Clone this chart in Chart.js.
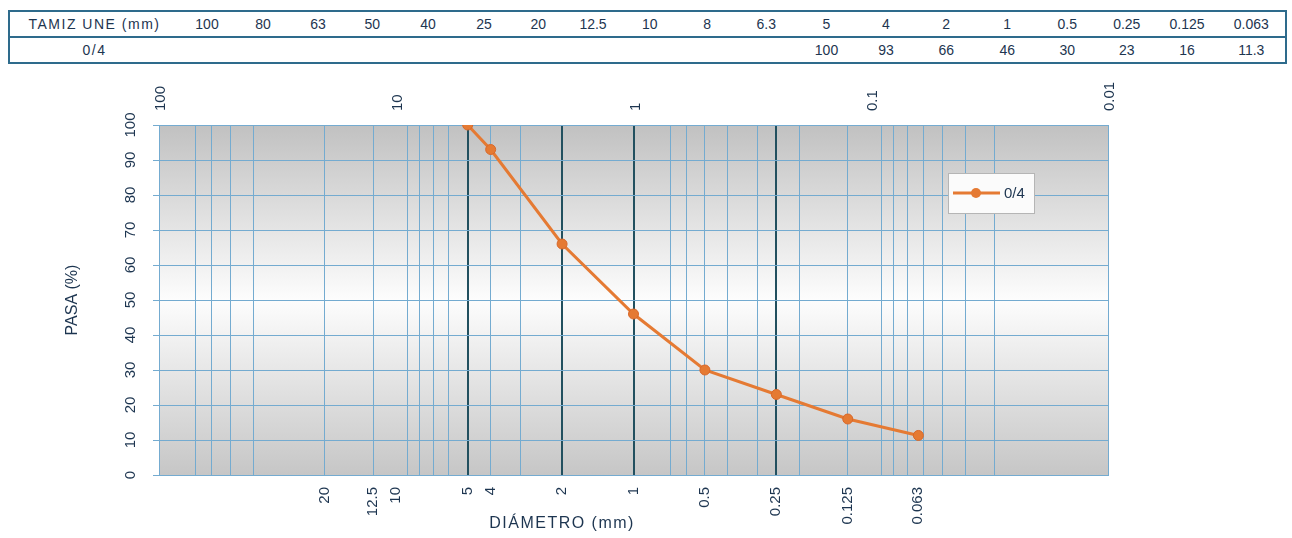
<!DOCTYPE html>
<html>
<head>
<meta charset="utf-8">
<script src="https://cdn.jsdelivr.net/npm/chart.js@4.4.1/dist/chart.umd.min.js"></script>
<style>
  body { margin: 0; background: #fff; font-family: "Liberation Sans", Arial, sans-serif; }
  #wrap { position: relative; width: 1292px; height: 538px; }
  #chart { position: absolute; left: 0; top: 0; }
  #sieve-table { position: absolute; left: 8px; top: 10px; width: 1277px; border-collapse: collapse;
    table-layout: fixed; border: 2px solid #2e6b8c; color: #1d3550; font-size: 14px; background: #fff; }
  #sieve-table td { height: 24px; padding: 0; text-align: center; white-space: nowrap; }
  #sieve-table td:first-child { letter-spacing: 1.5px; }
  #sieve-table tr:first-child td { border-bottom: 2px solid #2e6b8c; }
</style>
</head>
<body>
<div id="wrap">
  <canvas id="chart" width="1292" height="538"></canvas>
  <table id="sieve-table"></table>
</div>
<script>
// sieve sizes (mm) and % passing for the 0/4 sand
const sieveSizes = [100, 80, 63, 50, 40, 25, 20, 12.5, 10, 8, 6.3, 5, 4, 2, 1, 0.5, 0.25, 0.125, 0.063];
const passing04 = [null, null, null, null, null, null, null, null, null, null, null, 100, 93, 66, 46, 30, 23, 16, 11.3];
const seriesName = '0/4';
const tableHeader = 'TAMIZ UNE (mm)';

// axis ticks
const topAxisTicks = [100, 10, 1, 0.1, 0.01];
const bottomAxisLabels = [20, 12.5, 10, 5, 4, 2, 1, 0.5, 0.25, 0.125, 0.063];
const gridLines = [100, 70, 60, 50, 40, 20, 12.5, 9, 8, 7, 6, 5, 4, 3, 2, 1, 0.7, 0.6, 0.5, 0.4, 0.3, 0.25, 0.2, 0.125, 0.09, 0.08, 0.07, 0.06, 0.05, 0.04, 0.03, 0.01];
const heavyLines = [5, 2, 1, 0.25];

const xTitle = 'DIÁMETRO (mm)';
const yTitle = 'PASA (%)';

// styles
const colWidths = [170, 56, 56, 54, 54.5, 57, 55, 53.5, 56, 57.5, 57.5, 60.5, 60, 59, 61.5, 60.5, 59.5, 59.5, 61, 68.5];
const textColor = '#1d3550';
const gridBlue = '#74abd0';
const heavyColor = '#22505f';
const orange = '#e57a33';
const fontFamily = '"Liberation Sans", Arial, sans-serif';

// build the table
const table = document.getElementById('sieve-table');
let html = '<colgroup>' + colWidths.map(w => `<col style="width:${w}px">`).join('') + '</colgroup>';
html += '<tr><td>' + tableHeader + '</td>' + sieveSizes.map(s => `<td>${s}</td>`).join('') + '</tr>';
html += '<tr><td>' + seriesName + '</td>' + passing04.map(p => `<td>${p === null ? '' : p}</td>`).join('') + '</tr>';
table.innerHTML = html;

const points = sieveSizes.map((s, i) => ({ x: s, y: passing04[i] })).filter(p => p.y !== null);
const xTickValues = Array.from(new Set([...gridLines, ...bottomAxisLabels])).sort((a, b) => b - a);

const backgroundPlugin = {
    id: 'plotBackground',
    beforeDraw(chart) {
        const { ctx, chartArea: a } = chart;
        const g = ctx.createLinearGradient(0, a.top, 0, a.bottom);
        g.addColorStop(0, '#c1c1c1');
        g.addColorStop(0.5, '#fdfdfd');
        g.addColorStop(1, '#c6c6c6');
        ctx.save();
        ctx.fillStyle = g;
        ctx.fillRect(a.left, a.top, a.right - a.left, a.bottom - a.top);
        ctx.restore();
    }
};

const extrasPlugin = {
    id: 'extras',
    afterDraw(chart) {
        const { ctx, chartArea: a, scales } = chart;
        const ds = chart.data.datasets[0];
        ctx.save();
        // x axis title
        ctx.font = '16px ' + fontFamily;
        ctx.letterSpacing = '1.5px';
        ctx.fillStyle = textColor;
        ctx.textAlign = 'center';
        ctx.textBaseline = 'middle';
        ctx.fillText(xTitle, scales.x.getPixelForValue(2), a.bottom + 49);
        ctx.letterSpacing = '0px';

        // legend box
        const bx = a.right - 160, by = a.top + 48, bw = 86, bh = 40;
        ctx.fillStyle = '#fbfbfb';
        ctx.fillRect(bx, by, bw, bh);
        ctx.strokeStyle = '#b5b5b5';
        ctx.lineWidth = 1;
        ctx.strokeRect(bx + 0.5, by + 0.5, bw, bh);
        ctx.strokeStyle = ds.borderColor;
        ctx.lineWidth = 3;
        ctx.beginPath();
        ctx.moveTo(bx + 5, by + 20);
        ctx.lineTo(bx + 52, by + 20);
        ctx.stroke();
        ctx.fillStyle = ds.pointBackgroundColor;
        ctx.beginPath();
        ctx.arc(bx + 28, by + 20, 5, 0, Math.PI * 2);
        ctx.fill();
        ctx.font = '15px ' + fontFamily;
        ctx.fillStyle = textColor;
        ctx.textAlign = 'left';
        ctx.fillText(ds.label, bx + 56, by + 21);
        ctx.restore();
    }
};

const ctx = document.getElementById('chart').getContext('2d');
new Chart(ctx, {
    type: 'line',
    data: {
        datasets: [{
            label: seriesName,
            data: points,
            borderColor: orange,
            borderWidth: 3,
            pointRadius: 5,
            pointBackgroundColor: orange,
            pointBorderColor: '#d9682a',
            pointBorderWidth: 1,
            tension: 0
        }]
    },
    options: {
        responsive: false,
        animation: false,
        layout: { padding: { left: 50, right: 184, top: 75, bottom: 3 } },
        plugins: { legend: { display: false }, tooltip: { enabled: false } },
        scales: {
            x: {
                type: 'logarithmic',
                position: 'bottom',
                reverse: true,
                min: 0.01,
                max: 100,
                afterBuildTicks: s => { s.ticks = xTickValues.map(v => ({ value: v })); },
                afterFit: s => { s.height = 60; },
                ticks: {
                    autoSkip: false,
                    minRotation: 90,
                    maxRotation: 90,
                    padding: 12,
                    color: textColor,
                    font: { family: fontFamily, size: 15 },
                    callback: v => bottomAxisLabels.includes(v) ? String(v) : ''
                },
                grid: {
                    drawTicks: false,
                    color: c => heavyLines.includes(c.tick.value) ? heavyColor
                        : (gridLines.includes(c.tick.value) ? gridBlue : 'rgba(0,0,0,0)'),
                    lineWidth: c => heavyLines.includes(c.tick.value) ? 2 : 1
                },
                border: { color: gridBlue }
            },
            x2: {
                type: 'logarithmic',
                position: 'top',
                reverse: true,
                min: 0.01,
                max: 100,
                afterBuildTicks: s => { s.ticks = topAxisTicks.map(v => ({ value: v })); },
                afterFit: s => { s.height = 50; },
                ticks: {
                    autoSkip: false,
                    minRotation: 90,
                    maxRotation: 90,
                    padding: 6,
                    labelOffset: 20,
                    color: textColor,
                    font: { family: fontFamily, size: 15 },
                    callback: v => String(v)
                },
                grid: { display: false },
                border: { display: false }
            },
            y: {
                min: 0,
                max: 100,
                afterFit: s => { s.width = 109; },
                ticks: {
                    stepSize: 10,
                    minRotation: 90,
                    maxRotation: 90,
                    crossAlign: 'center',
                    padding: 10,
                    color: textColor,
                    font: { family: fontFamily, size: 15 }
                },
                grid: { tickLength: 6, color: gridBlue },
                border: { color: gridBlue },
                title: {
                    display: true,
                    text: yTitle,
                    color: textColor,
                    padding: { top: 13, bottom: 0 },
                    font: { family: fontFamily, size: 16 }
                }
            }
        }
    },
    plugins: [backgroundPlugin, extrasPlugin]
});
</script>
</body>
</html>
